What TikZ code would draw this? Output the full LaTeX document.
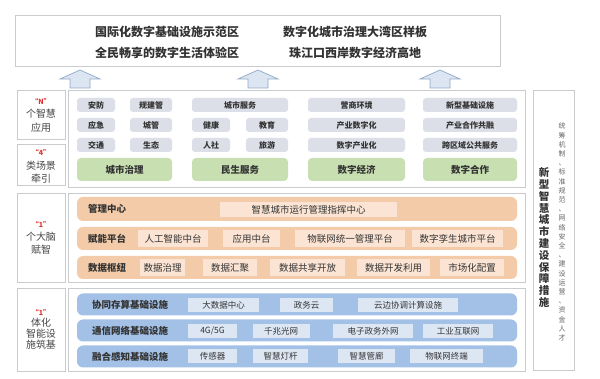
\documentclass[tikz,border=0pt]{standalone}
\usepackage{fontspec}
\setmainfont{Noto Sans CJK SC}
\definecolor{frameC}{HTML}{C9CBCE}
\definecolor{grayB}{HTML}{DCDFE8}
\definecolor{greenB}{HTML}{C8DFB2}
\definecolor{orangeB}{HTML}{F3CBA8}
\definecolor{orangeI}{HTML}{FBE4D3}
\definecolor{blueB}{HTML}{A3C1E7}
\definecolor{blueI}{HTML}{DDE7F4}
\definecolor{txt}{HTML}{333333}
\definecolor{redQ}{HTML}{E0302E}
\definecolor{arrowF}{HTML}{DCE6F2}
\definecolor{arrowD}{HTML}{8FA9C7}
\tikzset{
  frame/.style={draw=frameC, line width=0.8pt, fill=white},
  gbox/.style={fill=grayB, rounded corners=3pt, minimum height=14pt, inner sep=0pt, font=\fontsize{8}{9}\selectfont\bfseries, text=txt},
  grbox/.style={fill=greenB, rounded corners=4pt, minimum height=23pt, inner sep=0pt, font=\fontsize{9.5}{11}\selectfont\bfseries, text=txt},
  oband/.style={fill=orangeB, rounded corners=6pt, minimum width=440pt, inner sep=0pt},
  obox/.style={fill=orangeI, minimum height=17pt, inner sep=0pt, font=\fontsize{9.5}{11}\selectfont, text=txt},
  bband/.style={fill=blueB, rounded corners=6pt, minimum width=440pt, minimum height=22pt, inner sep=0pt},
  bbox/.style={fill=blueI, minimum height=14pt, inner sep=0pt, font=\fontsize{8.5}{10}\selectfont, text=txt},
  blab/.style={font=\fontsize{9.5}{11}\selectfont\bfseries, text=txt, inner sep=0pt},
  llab/.style={font=\fontsize{10}{12}\selectfont, text=txt!90, inner sep=0pt},
  qlab/.style={font=\fontsize{7}{8}\selectfont\bfseries, text=redQ, inner sep=0pt},
  ttl/.style={font=\fontsize{12}{14}\selectfont\bfseries, text=txt, inner sep=0pt},
  uparrow/.style={fill=arrowF, draw=arrowD, line width=0.7pt, line join=miter}
}
\begin{document}
\begin{tikzpicture}[x=1pt,y=-1pt]
\useasboundingbox[fill=white] (0,0) rectangle (600,379);

% top box
\draw[frame] (15,15) rectangle (500,66);
\node[ttl] (t1) at (167,32) {国际化数字基础设施示范区};
\node[ttl] (t2) at (167,53) {全民畅享的数字生活体验区};
\node[ttl] (t3) at (355,32) {数字化城市治理大湾区样板};
\node[ttl] (t4) at (355,53) {珠江口西岸数字经济高地};

% up arrows
\foreach \cx/\nm in {80/a1,258/a2,440/a3}{
  \coordinate (\nm) at (\cx,70);
  \draw[uparrow] (\cx,70) -- ++(20,9) -- ++(-10,0) -- ++(0,9) -- ++(-20,0) -- ++(0,-9) -- ++(-10,0) -- cycle;
}

% left labels
\draw[frame] (17,90) rectangle (65,139);
\draw[frame] (17,144) rectangle (65,185);
\draw[frame] (17,193) rectangle (65,282);
\draw[frame] (17,288) rectangle (65,371);
\node[qlab] (q1) at (41,101) {“N”};
\node[llab] (l1a) at (41,114) {个智慧};
\node[llab] (l1b) at (41,128) {应用};
\node[qlab] (q2) at (41,152) {“4”};
\node[llab] (l2a) at (41,166) {类场景};
\node[llab] (l2b) at (41,179) {牵引};
\node[qlab] (q3) at (41,224) {“1”};
\node[llab] (l3a) at (41,237) {个大脑};
\node[llab] (l3b) at (41,250) {赋智};
\node[qlab] (q4) at (41,312) {“1”};
\node[llab] (l4a) at (41,323) {体化};
\node[llab] (l4b) at (41,334) {智能设};
\node[llab] (l4c) at (41,345) {施筑基};

% main frames
\draw[frame] (68,90) rectangle (525,187);
\draw[frame] (68,193) rectangle (525,282);
\draw[frame] (68,288) rectangle (525,371);

% right column
\draw[frame] (533,90) rectangle (574,370);
\node[inner sep=0pt, align=center, text=txt, font=\fontsize{10.5}{11.8}\selectfont\bfseries] (rc) at (544,237.5)
  {新\\型\\智\\慧\\城\\市\\建\\设\\保\\障\\措\\施};
\node[inner sep=0pt, align=center, text=txt!75, font=\fontsize{7}{9.2}\selectfont] (rs) at (562,232)
  {统\\筹\\机\\制\\、\\标\\准\\规\\范\\、\\网\\络\\安\\全\\、\\建\\设\\运\\营\\、\\资\\金\\人\\才};

% apps grid
\node[gbox, minimum width=38pt] (g11) at (96,105) {安防};
\node[gbox, minimum width=42pt] (g12) at (151,105) {规建管};
\node[gbox, minimum width=38pt] (g21) at (96,125) {应急};
\node[gbox, minimum width=42pt] (g22) at (151,125) {城管};
\node[gbox, minimum width=38pt] (g31) at (96,145) {交通};
\node[gbox, minimum width=42pt] (g32) at (151,145) {生态};
\node[gbox, minimum width=96pt] (g13) at (240,105) {城市服务};
\node[gbox, minimum width=38pt] (g23) at (211,125) {健康};
\node[gbox, minimum width=42pt] (g24) at (267,125) {教育};
\node[gbox, minimum width=38pt] (g33) at (211,145) {人社};
\node[gbox, minimum width=42pt] (g34) at (267,145) {旅游};
\node[gbox, minimum width=97pt] (g15) at (356.5,105) {营商环境};
\node[gbox, minimum width=97pt] (g25) at (356.5,125) {产业数字化};
\node[gbox, minimum width=97pt] (g35) at (356.5,145) {数字产业化};
\node[gbox, minimum width=94pt] (g16) at (470,105) {新型基础设施};
\node[gbox, minimum width=94pt] (g26) at (470,125) {产业合作共融};
\node[gbox, minimum width=94pt] (g36) at (470,145) {跨区域公共服务};
\node[grbox, minimum width=95pt] (s1) at (124.5,169.5) {城市治理};
\node[grbox, minimum width=96pt] (s2) at (240,169.5) {民生服务};
\node[grbox, minimum width=97pt] (s3) at (356.5,169.5) {数字经济};
\node[grbox, minimum width=94pt] (s4) at (470,169.5) {数字合作};

% brain
\node[oband, minimum height=24pt] (ob1) at (297,209) {};
\node[oband, minimum height=23pt] (ob2) at (297,238.5) {};
\node[oband, minimum height=23pt] (ob3) at (297,267.5) {};
\node[blab] (ol1) at (107,209) {管理中心};
\node[blab] (ol2) at (107,238.5) {赋能平台};
\node[blab] (ol3) at (107,267.5) {数据枢纽};
\node[obox, minimum width=177pt, minimum height=15pt] (o11) at (308.5,210) {智慧城市运行管理指挥中心};
\node[obox, minimum width=70pt] (o21) at (173,238.5) {人工智能中台};
\node[obox, minimum width=57pt] (o22) at (251.5,238.5) {应用中台};
\node[obox, minimum width=110pt] (o23) at (350,238.5) {物联网统一管理平台};
\node[obox, minimum width=91pt] (o24) at (457.5,238.5) {数字孪生城市平台};
\node[obox, minimum width=45pt] (o31) at (162.5,267.5) {数据治理};
\node[obox, minimum width=54pt] (o32) at (230,267.5) {数据汇聚};
\node[obox, minimum width=75pt] (o33) at (307.5,267.5) {数据共享开放};
\node[obox, minimum width=73pt] (o34) at (393.5,267.5) {数据开发利用};
\node[obox, minimum width=64pt] (o35) at (472,267.5) {市场化配置};

% infrastructure
\node[bband] (bb1) at (297,304.5) {};
\node[bband] (bb2) at (297,330.5) {};
\node[bband] (bb3) at (297,356.5) {};
\node[blab] (bl1) at (130,304.5) {协同存算基础设施};
\node[blab] (bl2) at (130,330.5) {通信网络基础设施};
\node[blab] (bl3) at (130,356.5) {融合感知基础设施};
\node[bbox, minimum width=71pt] (b11) at (223.5,305) {大数据中心};
\node[bbox, minimum width=53pt] (b12) at (306.5,305) {政务云};
\node[bbox, minimum width=100pt] (b13) at (408,305) {云边协调计算设施};
\node[bbox, minimum width=49pt] (b21) at (212.5,331) {4G/5G};
\node[bbox, minimum width=57pt] (b22) at (281,331) {千兆光网};
\node[bbox, minimum width=80pt] (b23) at (373,331) {电子政务外网};
\node[bbox, minimum width=70pt] (b24) at (458,331) {工业互联网};
\node[bbox, minimum width=49pt] (b31) at (212.5,356) {传感器};
\node[bbox, minimum width=55pt] (b32) at (280.5,356) {智慧灯杆};
\node[bbox, minimum width=57pt] (b33) at (366.5,356) {智慧管廊};
\node[bbox, minimum width=73pt] (b34) at (446.5,356) {物联网终端};
\end{tikzpicture}
\end{document}
